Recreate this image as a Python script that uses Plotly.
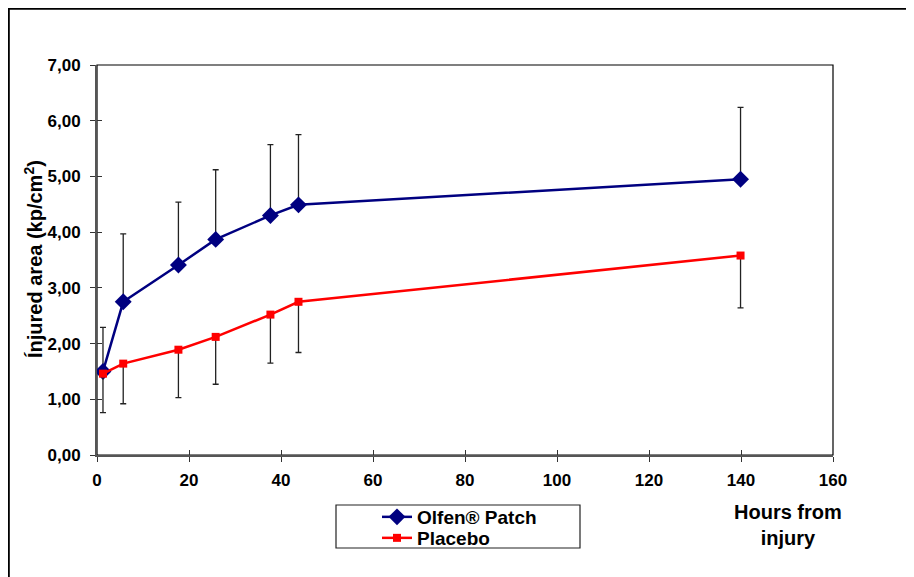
import plotly.graph_objects as go

# ---- data ----
hours = [1.3, 5.7, 17.7, 25.8, 37.7, 43.8, 139.9]
olfen = [1.50, 2.75, 3.41, 3.87, 4.30, 4.49, 4.95]
olfen_err_plus = [0.79, 1.22, 1.13, 1.25, 1.27, 1.26, 1.29]
placebo = [1.46, 1.64, 1.89, 2.12, 2.52, 2.75, 3.58]
placebo_err_minus = [0.70, 0.72, 0.86, 0.85, 0.87, 0.91, 0.94]

series_names = ["Olfen® Patch", "Placebo"]
y_title = "Ínjured area (kp/cm<sup>2</sup>)"
x_title = "Hours from<br>injury"
x_ticks = [0, 20, 40, 60, 80, 100, 120, 140, 160]
y_ticks = [0, 1, 2, 3, 4, 5, 6, 7]

FONT = "Liberation Sans, Arial, sans-serif"
OFF = 8  # page offset of the figure (default body margin)
W, H = 906, 569
L, R, T, B = 89, 81, 57, 122
pw, ph = W - L - R, H - T - B


def px_x(p):
    return (p - OFF - L) / pw


def px_y(p):
    return (H - B - (p - OFF)) / ph


fig = go.Figure()

fig.add_trace(go.Scatter(
    x=hours, y=olfen, name=series_names[0], mode="lines+markers",
    line=dict(color="#000080", width=2.5),
    marker=dict(symbol="diamond", size=13, color="#000080"),
    error_y=dict(type="data", symmetric=False, array=olfen_err_plus,
                 arrayminus=[0] * len(olfen), color="#222222",
                 thickness=1.3, width=3),
    legend="legend",
))
fig.add_trace(go.Scatter(
    x=hours, y=placebo, name=series_names[1], mode="lines+markers",
    line=dict(color="#FF0000", width=2.5),
    marker=dict(symbol="square", size=8, color="#FF0000"),
    error_y=dict(type="data", symmetric=False, array=[0] * len(placebo),
                 arrayminus=placebo_err_minus, color="#222222",
                 thickness=1.3, width=3),
    legend="legend2",
))

tickfont = dict(family=FONT, size=17, color="black", weight="bold")
legfont = dict(family=FONT, size=19, color="black", weight="bold")

fig.update_layout(
    width=W, height=H,
    margin=dict(l=L, r=R, t=T, b=B, pad=0),
    paper_bgcolor="white", plot_bgcolor="white",
    separators=",.",
    font=dict(family=FONT, color="black"),
    showlegend=True,
    legend=dict(
        x=px_x(377), y=px_y(517), xanchor="left", yanchor="middle",
        bgcolor="rgba(0,0,0,0)", borderwidth=0, font=legfont, itemwidth=30,
    ),
    legend2=dict(
        x=px_x(377), y=px_y(538), xanchor="left", yanchor="middle",
        bgcolor="rgba(0,0,0,0)", borderwidth=0, font=legfont, itemwidth=30,
    ),
    xaxis=dict(
        range=[0, 160], tickvals=x_ticks, ticks="outside", ticklen=5,
        tickwidth=1.3, tickcolor="#333", showgrid=False, zeroline=False,
        showline=True, linecolor="#555", linewidth=2,
        tickfont=tickfont, ticklabelstandoff=4,
    ),
    yaxis=dict(
        range=[0, 7], tickvals=y_ticks, tickformat=".2f", ticks="outside",
        ticklen=5, tickwidth=1.3, tickcolor="#333", showgrid=False,
        zeroline=False, showline=True, linecolor="#555", linewidth=2,
        tickfont=tickfont, ticklabelstandoff=6,
    ),
    xaxis2=dict(
        range=[0, 160], tickvals=x_ticks, ticks="inside", ticklen=5,
        tickwidth=1.3, tickcolor="#333", showticklabels=False,
        showgrid=False, zeroline=False, overlaying="x", side="bottom",
    ),
    yaxis2=dict(
        range=[0, 7], tickvals=y_ticks, ticks="inside", ticklen=5,
        tickwidth=1.3, tickcolor="#333", showticklabels=False,
        showgrid=False, zeroline=False, overlaying="y", side="left",
    ),
    shapes=[
        # plot area border (top/right)
        dict(type="rect", xref="paper", yref="paper", x0=0, y0=0, x1=1, y1=1,
             line=dict(color="black", width=1.2), layer="below"),
        # legend box
        dict(type="rect", xref="paper", yref="paper",
             x0=px_x(336), x1=px_x(580), y0=px_y(548), y1=px_y(505),
             line=dict(color="#222", width=1.2)),
        # outer chart frame
        dict(type="rect", xref="paper", yref="paper",
             x0=px_x(OFF + 0.8), x1=px_x(911), y0=px_y(600), y1=px_y(OFF + 0.8),
             line=dict(color="black", width=2)),
    ],
    annotations=[
        dict(text=y_title, textangle=-90, xref="paper", yref="paper",
             x=px_x(33), y=px_y(259), xanchor="center", yanchor="middle",
             showarrow=False,
             font=dict(family=FONT, size=20, color="black", weight="bold")),
        dict(text=x_title, xref="paper", yref="paper",
             x=px_x(788), y=px_y(525), xanchor="center", yanchor="middle",
             showarrow=False, align="center",
             font=dict(family=FONT, size=20, color="black", weight="bold")),
    ],
)

# invisible trace to activate the inside-tick axes
fig.add_trace(go.Scatter(x=[None], y=[None], xaxis="x2", yaxis="y2",
                         showlegend=False, hoverinfo="skip"))

fig.write_html("out.html")
